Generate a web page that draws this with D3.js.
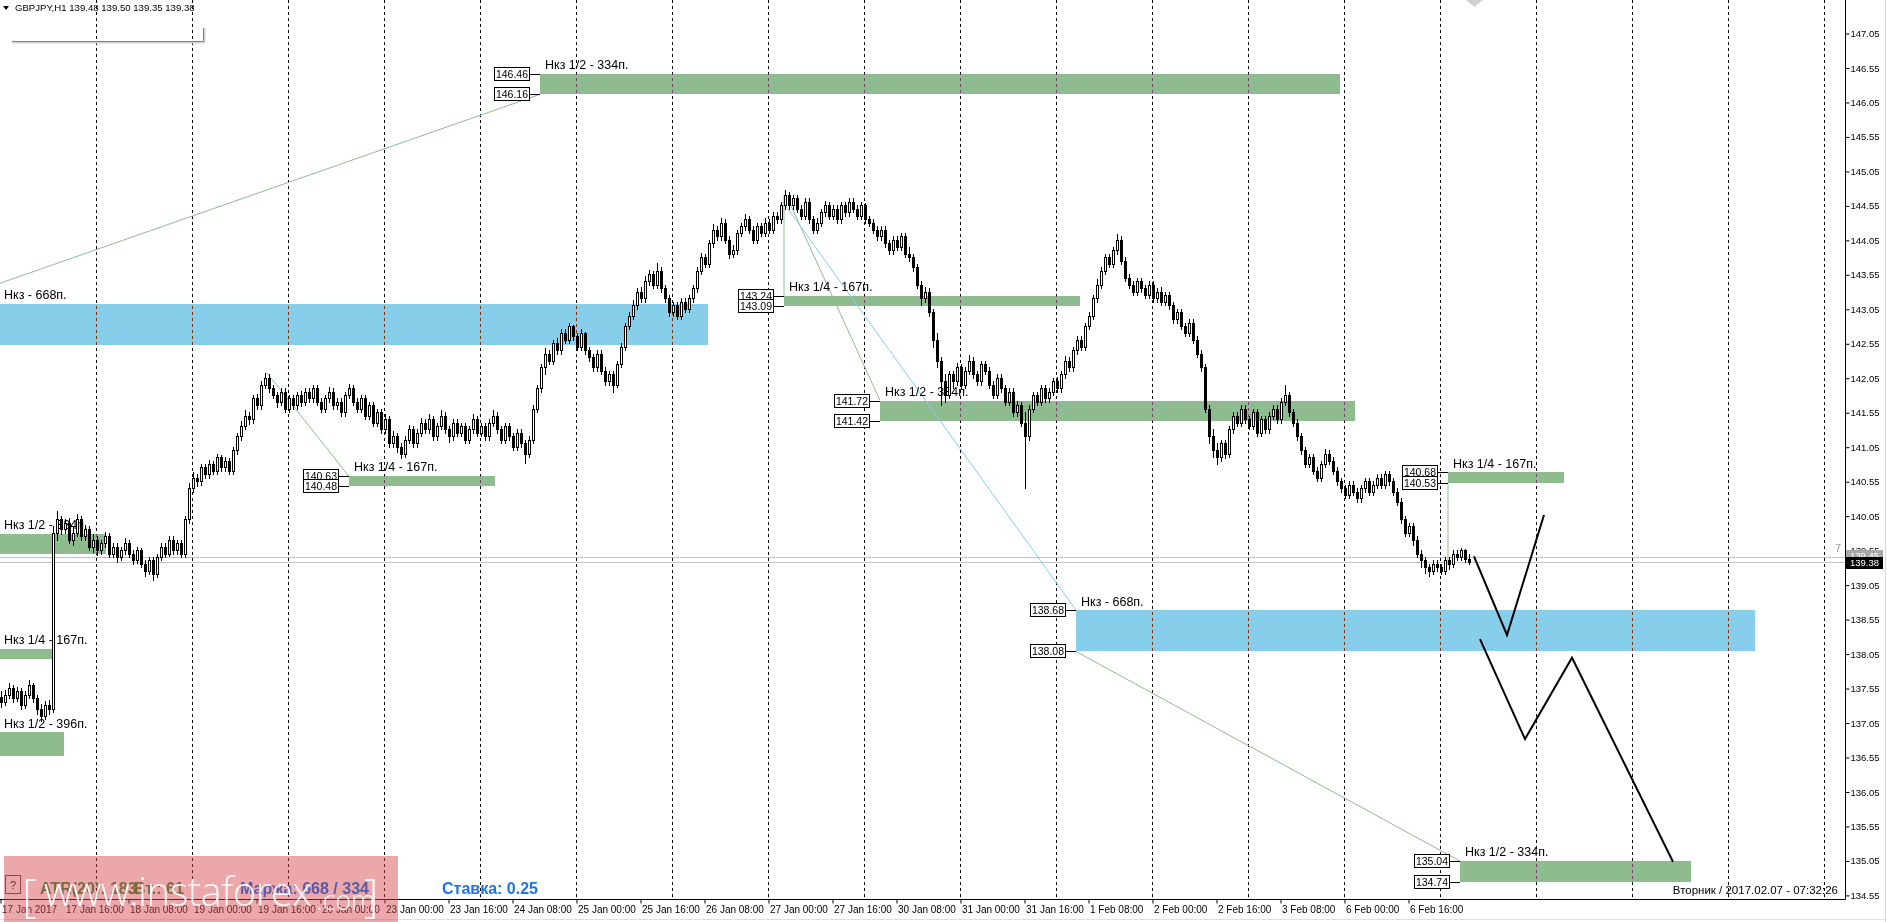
<!DOCTYPE html>
<html><head><meta charset="utf-8">
<script src="https://cdnjs.cloudflare.com/ajax/libs/d3/7.8.5/d3.min.js"></script>
<style>
html,body{margin:0;padding:0;background:#fff;overflow:hidden;}
svg{display:block;font-family:"Liberation Sans",Arial,sans-serif;}
</style></head><body>
<svg id="chart" width="1887" height="922"></svg>
<script>
// ---------------- DATA ----------------
const symbolTitle = "GBPJPY,H1  139.48 139.50 139.35 139.38";
const firstOpen = 137.42;
const closes = [
137.35,137.45,137.55,137.40,137.50,137.30,137.45,137.60,137.40,137.25,137.15,137.30,137.25,
139.80,140.00,
139.85,139.95,139.70,139.80,140.00,139.75,139.85,
139.60,139.70,139.55,139.65,139.75,139.50,139.60,139.45,139.55,
139.65,139.50,139.40,139.55,139.35,139.25,139.40,139.20,
139.45,139.60,139.50,139.70,139.55,139.65,139.50,
140.00,140.45,140.60,
140.55,140.75,140.65,140.80,140.70,140.90,140.75,140.85,140.70,
141.00,141.20,141.35,141.50,141.45,141.75,141.65,141.95,
142.05,141.90,
141.80,141.70,141.85,141.60,141.75,141.65,141.80,141.70,
141.85,141.75,141.90,141.70,141.60,141.75,141.85,141.65,141.70,141.55,141.80,141.90,141.70,141.60,141.75,
141.50,141.65,141.40,141.55,141.30,141.45,
141.10,141.20,141.05,140.95,141.15,141.30,141.10,141.25,
141.40,141.30,141.45,141.20,141.35,141.50,141.30,141.20,141.40,141.25,141.35,141.15,141.30,141.45,141.25,141.35,
141.20,141.40,141.50,141.30,141.15,141.35,141.20,141.05,141.25,141.10,140.95,141.15,
141.60,141.90,142.20,142.40,142.30,142.55,
142.45,142.70,142.60,142.80,142.65,142.50,142.70,142.45,142.35,
142.20,142.40,142.15,142.00,142.10,141.95,142.25,
142.50,142.80,142.95,143.10,143.30,143.20,143.45,
143.55,143.40,143.60,143.35,
143.20,143.00,143.10,142.95,143.15,143.05,143.20,143.35,
143.60,143.80,143.70,144.00,144.20,144.10,144.30,
144.05,143.85,143.90,144.15,144.25,
144.35,144.20,144.05,144.25,144.15,144.30,144.20,144.40,144.35,144.55,
144.70,
144.55,144.65,144.50,144.40,144.60,144.35,144.20,144.30,144.45,144.55,144.40,
144.50,144.35,144.55,144.45,144.60,144.50,144.40,144.55,144.35,144.30,144.20,
144.10,144.20,144.00,143.90,144.05,143.95,144.10,143.85,143.80,143.65,
143.40,143.20,143.30,143.00,
142.60,142.30,142.00,
141.80,142.10,142.00,142.20,141.95,142.15,
142.30,142.10,142.00,142.25,142.15,141.95,141.80,142.05,141.90,
141.70,141.85,141.55,141.65,141.40,141.20,
141.60,141.80,141.70,141.90,141.75,141.85,142.00,141.90,142.10,
142.30,142.20,142.45,142.60,142.50,142.80,142.95,143.20,143.40,
143.60,143.80,143.70,143.90,144.05,143.75,
143.50,143.40,143.30,143.45,143.35,143.25,143.40,143.20,143.30,143.15,143.25,143.10,
142.90,143.00,142.80,142.70,142.85,142.60,142.40,142.20,
141.60,141.20,141.00,140.90,141.10,140.95,141.30,
141.50,141.40,141.60,141.45,141.35,141.55,141.25,141.45,141.30,
141.50,141.60,141.45,141.70,141.80,141.55,141.40,
141.20,141.00,140.80,140.90,140.70,140.60,
140.80,140.95,140.85,140.70,140.55,
140.45,140.35,140.50,140.40,140.30,140.45,140.55,140.40,140.50,
140.60,140.50,140.65,140.55,140.40,140.25,
140.00,139.80,139.90,139.70,
139.50,139.40,139.30,139.25,139.35,
139.30,139.25,139.40,139.35,
139.50,139.45,139.55,139.42,139.38
];
const highs = [
137.50,137.52,137.62,137.60,137.56,137.55,137.50,137.66,137.63,137.45,137.32,137.36,137.38,
139.90,140.12,
140.05,140.00,140.02,139.88,140.08,140.05,139.92,
139.90,139.78,139.75,139.70,139.82,139.80,139.66,139.65,139.60,
139.72,139.70,139.55,139.60,139.58,139.40,139.45,139.45,
139.50,139.65,139.66,139.76,139.75,139.70,139.70,
140.05,140.52,140.68,
140.66,140.80,140.80,140.86,140.85,140.95,140.93,140.90,140.88,
141.05,141.25,141.42,141.58,141.55,141.80,141.82,142.00,
142.12,142.10,
141.95,141.85,141.90,141.90,141.80,141.80,141.85,141.86,
141.90,141.90,141.95,141.95,141.75,141.80,141.92,141.90,141.76,141.75,141.85,141.96,141.95,141.75,141.80,
141.80,141.70,141.70,141.60,141.60,141.52,
141.50,141.28,141.25,141.10,141.20,141.36,141.35,141.30,
141.46,141.45,141.52,141.50,141.40,141.58,141.55,141.35,141.45,141.45,141.40,141.40,141.35,141.52,141.50,141.40,
141.40,141.45,141.58,141.55,141.35,141.40,141.40,141.25,141.30,141.30,141.15,141.20,
141.65,141.95,142.25,142.48,142.45,142.60,
142.62,142.75,142.75,142.85,142.82,142.70,142.76,142.72,142.50,
142.40,142.45,142.45,142.20,142.15,142.15,142.30,
142.55,142.85,143.00,143.18,143.35,143.36,143.52,
143.62,143.60,143.72,143.65,
143.40,143.25,143.15,143.15,143.20,143.20,143.25,143.40,
143.65,143.86,143.85,144.05,144.28,144.25,144.36,
144.35,144.10,143.98,144.20,144.30,
144.42,144.40,144.25,144.30,144.30,144.36,144.35,144.46,144.45,144.60,
144.77,
144.75,144.70,144.70,144.55,144.65,144.65,144.40,144.36,144.50,144.62,144.60,
144.56,144.55,144.60,144.60,144.66,144.65,144.55,144.60,144.58,144.40,144.35,
144.25,144.25,144.25,144.05,144.10,144.10,144.15,144.15,143.95,143.85,
143.70,143.45,143.36,143.35,
143.05,142.70,142.35,
142.10,142.15,142.15,142.26,142.25,142.20,
142.38,142.35,142.15,142.30,142.30,142.20,142.00,142.10,142.10,
141.95,141.90,141.90,141.72,141.70,141.55,
141.65,141.85,141.85,141.95,141.95,141.90,142.05,142.06,142.15,
142.36,142.35,142.50,142.66,142.65,142.85,143.00,143.25,143.48,
143.66,143.85,143.85,143.95,144.13,144.10,
143.80,143.55,143.45,143.50,143.50,143.40,143.45,143.45,143.35,143.36,143.30,143.30,
143.15,143.05,143.05,142.85,142.90,142.90,142.65,142.45,
142.25,141.65,141.30,141.10,141.15,141.15,141.35,
141.56,141.55,141.65,141.65,141.50,141.60,141.60,141.50,141.50,
141.55,141.66,141.65,141.75,141.94,141.85,141.60,
141.45,141.25,141.05,140.95,140.95,140.75,
140.85,141.02,141.00,140.90,140.75,
140.60,140.50,140.55,140.55,140.45,140.50,140.60,140.60,140.55,
140.66,140.65,140.70,140.70,140.60,140.45,
140.30,140.05,139.95,139.95,
139.75,139.55,139.45,139.35,139.40,
139.40,139.35,139.45,139.45,
139.55,139.55,139.58,139.57,139.50
];
const lows = [
137.28,137.30,137.40,137.35,137.36,137.24,137.26,137.40,137.35,137.18,137.07,137.10,137.18,
137.20,139.70,
139.78,139.80,139.65,139.62,139.75,139.70,139.70,
139.55,139.52,139.48,139.50,139.60,139.45,139.45,139.38,139.40,
139.50,139.45,139.35,139.36,139.30,139.18,139.20,139.12,
139.16,139.40,139.45,139.46,139.50,139.50,139.45,
139.45,139.95,140.40,
140.48,140.50,140.60,140.60,140.65,140.66,140.70,140.70,140.65,
140.66,140.95,141.15,141.30,141.38,141.40,141.60,141.60,
141.90,141.85,
141.75,141.62,141.65,141.55,141.55,141.60,141.60,141.64,
141.66,141.70,141.70,141.65,141.55,141.55,141.70,141.60,141.60,141.50,141.50,141.75,141.65,141.55,141.55,
141.45,141.45,141.35,141.35,141.25,141.25,
141.05,141.05,140.98,140.88,140.90,141.10,141.05,141.05,
141.20,141.25,141.25,141.15,141.15,141.30,141.25,141.12,141.15,141.20,141.20,141.10,141.10,141.25,141.20,141.20,
141.15,141.15,141.35,141.25,141.10,141.10,141.15,141.00,141.00,141.05,140.81,140.90,
141.10,141.55,141.85,142.10,142.25,142.25,
142.40,142.40,142.55,142.55,142.60,142.45,142.45,142.40,142.30,
142.15,142.15,142.10,141.95,141.95,141.85,141.92,
142.20,142.45,142.75,142.90,143.05,143.15,143.15,
143.40,143.35,143.35,143.30,
143.15,142.95,142.95,142.90,142.90,143.00,143.00,143.15,
143.30,143.55,143.65,143.65,143.95,144.05,144.05,
144.00,143.78,143.80,143.85,144.10,
144.20,144.15,144.00,144.00,144.10,144.10,144.15,144.15,144.30,144.30,
144.50,
144.50,144.50,144.45,144.35,144.35,144.30,144.15,144.15,144.25,144.40,144.35,
144.35,144.30,144.30,144.40,144.40,144.45,144.35,144.35,144.30,144.25,144.15,
144.05,144.05,143.95,143.85,143.85,143.90,143.90,143.80,143.75,143.60,
143.35,143.10,143.15,142.95,
142.50,142.20,141.66,
141.70,141.75,141.90,141.95,141.90,141.90,
142.10,142.05,141.95,141.95,142.10,141.90,141.75,141.75,141.85,
141.65,141.65,141.50,141.50,141.35,140.45,
141.15,141.55,141.65,141.65,141.70,141.70,141.80,141.85,141.85,
142.05,142.15,142.15,142.40,142.45,142.45,142.75,142.90,143.15,
143.35,143.55,143.65,143.65,143.85,143.70,
143.45,143.35,143.25,143.25,143.30,143.20,143.20,143.15,143.15,143.10,143.10,143.05,
142.85,142.85,142.75,142.65,142.65,142.55,142.35,142.15,
141.55,141.10,140.90,140.80,140.85,140.88,140.90,
141.25,141.35,141.35,141.40,141.30,141.30,141.20,141.20,141.25,
141.25,141.45,141.40,141.40,141.65,141.50,141.35,
141.15,140.95,140.75,140.75,140.65,140.55,
140.55,140.75,140.80,140.65,140.50,
140.40,140.30,140.30,140.35,140.25,140.25,140.40,140.35,140.35,
140.45,140.45,140.45,140.50,140.35,140.20,
139.95,139.75,139.75,139.62,
139.45,139.30,139.22,139.18,139.20,
139.25,139.20,139.20,139.28,
139.30,139.40,139.40,139.38,139.35
];
const timeLabels = ["17 Jan 2017","17 Jan 16:00","18 Jan 08:00","19 Jan 00:00","19 Jan 16:00","20 Jan 08:00","23 Jan 00:00","23 Jan 16:00","24 Jan 08:00","25 Jan 00:00","25 Jan 16:00","26 Jan 08:00","27 Jan 00:00","27 Jan 16:00","30 Jan 08:00","31 Jan 00:00","31 Jan 16:00","1 Feb 08:00","2 Feb 00:00","2 Feb 16:00","3 Feb 08:00","6 Feb 00:00","6 Feb 16:00"];
const barsPerLabel = 16;
const barsPerGrid = 24;
const priceTicks = [147.05,146.55,146.05,145.55,145.05,144.55,144.05,143.55,143.05,142.55,142.05,141.55,141.05,140.55,140.05,139.55,139.05,138.55,138.05,137.55,137.05,136.55,136.05,135.55,135.05,134.55];

// zones
const zoneLabels = ["Нкз 1/2 - 334п.","Нкз - 668п.","Нкз 1/2 - 334п.","Нкз 1/4 - 167п.","Нкз 1/2 - 396п.","Нкз 1/4 - 167п.","Нкз - 668п.","Нкз 1/4 - 167п.","Нкз 1/2 - 334п.","Нкз 1/4 - 167п.","Нкз 1/2 - 334п."];
const zoneTop    = [146.46,143.12,139.79,138.12,136.91,140.63,138.68,143.24,141.72,140.68,135.04];
const zoneBottom = [146.16,142.52,139.49,137.97,136.56,140.48,138.08,143.09,141.42,140.53,134.74];
const zoneStart  = [135,-1,-1,-1,-1,87.25,269,196,220,362,365];
const zoneEnd    = [334.9,176.9,26.5,13.5,16,123.75,438.75,270,338.75,391,422.75];
const zoneKind   = ["g","b","g","g","g","g","b","g","g","g","g"];
const zoneBoxes  = [true,false,false,false,false,true,true,true,true,true,true];

// thin object lines (bar, price)
const lineFrom = [[0,143.42],[66.75,142.12],[196,144.70],[197,144.64],[195.75,144.60],[362,140.53],[269,138.08]];
const lineTo   = [[135,146.16],[87.25,140.62],[196,143.24],[220,141.72],[269,138.68],[362,139.33],[365,135.04]];
const lineKind = ["g","g","g","g","b","g","g"];

// hand-drawn forecast paths (bar, price)
const forecastA = [[368.5,139.46],[376.75,138.32],[386,140.06]];
const forecastB = [[370,138.26],[381.25,136.81],[393,137.99],[418.25,135.03]];

const bidPrice = 139.38, askPrice = 139.45;
const infoTexts = ["ATR(20): 183","Вт.: 61","Маржа: 668 / 334","Ставка: 0.25"];
const footerTime = "Вторник / 2017.02.07 - 07:32:26";

// ---------------- DRAW ----------------
const W = 1887, H = 922, plotRight = 1845, plotBottom = 899;
const zoneColor = {g:"#8fbc8f", b:"#87ceeb"};
const svg = d3.select("#chart");
svg.append("rect").attr("width",W).attr("height",H).attr("fill","#fff");

const x = d3.scaleLinear().domain([0, 461.25]).range([0, plotRight]);
const y = d3.scaleLinear().domain([147.05, 134.55]).range([33, 894.9]);

const zg = svg.append("g").attr("shape-rendering","crispEdges");
zoneTop.forEach((t,i)=>{
  const x0 = Math.round(x(zoneStart[i])), x1 = Math.round(x(zoneEnd[i]));
  const y0 = Math.round(y(t)), y1 = Math.round(y(zoneBottom[i]));
  zg.append("rect").attr("x",x0).attr("y",y0).attr("width",x1-x0).attr("height",y1-y0)
    .attr("fill",zoneColor[zoneKind[i]]);
});

const gridX = d3.range(barsPerGrid, 461, barsPerGrid);
svg.append("g").selectAll("line").data(gridX).join("line")
  .attr("x1",d=>Math.round(x(d))+0.5).attr("x2",d=>Math.round(x(d))+0.5)
  .attr("y1",0).attr("y2",plotBottom)
  .attr("stroke","#fff").attr("stroke-dasharray","3,3")
  .style("mix-blend-mode","difference");

[askPrice,bidPrice].forEach(p=>{
  svg.append("line").attr("x1",0).attr("x2",plotRight).attr("y1",Math.round(y(p))+0.5).attr("y2",Math.round(y(p))+0.5)
    .attr("stroke","#c0c0c0").attr("stroke-width",1);
});
svg.append("text").attr("x",1835).attr("y",552).attr("font-size",11).attr("fill","#a0a0a0").text("7");

const lg = svg.append("g");
lineFrom.forEach((a,i)=>{
  const b = lineTo[i];
  lg.append("line").attr("x1",x(a[0])).attr("y1",y(a[1])).attr("x2",x(b[0])).attr("y2",y(b[1]))
    .attr("stroke", lineKind[i]==="g" ? "#8fbc8f" : "#87ceeb").attr("stroke-width",1);
});

const tg = svg.append("g");
zoneTop.forEach((t,i)=>{
  const x0 = zoneStart[i] < 0 ? 4 : x(zoneStart[i]) + 5;
  tg.append("text").attr("x",x0).attr("y",y(t)-9).attr("dy","0.35em")
    .attr("font-size",12.5).attr("fill","#000").text(zoneLabels[i]);
  if (zoneBoxes[i]) {
    const rx = Math.round(x(zoneStart[i]));
    [t, zoneBottom[i]].forEach(p=>{
      const yy = Math.round(y(p));
      tg.append("line").attr("x1",rx-10).attr("x2",rx).attr("y1",yy+0.5).attr("y2",yy+0.5)
        .attr("stroke","#000").attr("shape-rendering","crispEdges");
      tg.append("rect").attr("x",rx-45.5).attr("y",yy-6.5).attr("width",35).attr("height",13)
        .attr("fill","#fff").attr("stroke","#000").attr("shape-rendering","crispEdges");
      tg.append("text").attr("x",rx-28).attr("y",yy).attr("dy","0.36em").attr("text-anchor","middle")
        .attr("font-size",10.5).attr("fill","#000").text(p.toFixed(2));
    });
  }
});

// candles
const n = Math.min(closes.length, highs.length, lows.length);
const bars = d3.range(n).map(i=>({i, o: i===0 ? firstOpen : closes[i-1], h: highs[i], l: lows[i], c: closes[i]}));
const cg = svg.append("g").attr("shape-rendering","crispEdges");
cg.selectAll("line").data(bars).join("line")
  .attr("x1",d=>Math.round(x(d.i))+1.5).attr("x2",d=>Math.round(x(d.i))+1.5)
  .attr("y1",d=>Math.round(y(d.h))).attr("y2",d=>Math.round(y(d.l))+1)
  .attr("stroke","#000");
cg.selectAll("rect").data(bars).join("rect")
  .attr("x",d=>Math.round(x(d.i))+0.5)
  .attr("y",d=>Math.round(y(Math.max(d.c,d.o)))+0.5)
  .attr("width",2)
  .attr("height",d=>Math.max(0,Math.round(y(Math.min(d.c,d.o)))-Math.round(y(Math.max(d.c,d.o)))))
  .attr("fill",d=> d.c>d.o ? "#fff" : "#000")
  .attr("stroke","#000");

const fl = d3.line().x(d=>x(d[0])).y(d=>y(d[1]));
[forecastA, forecastB].forEach(pts=>{
  svg.append("path").attr("d",fl(pts)).attr("fill","none").attr("stroke","#000").attr("stroke-width",2);
});

// axes
svg.append("line").attr("x1",0).attr("x2",plotRight+0.5).attr("y1",plotBottom+0.5).attr("y2",plotBottom+0.5).attr("stroke","#000");
svg.append("line").attr("x1",plotRight+0.5).attr("x2",plotRight+0.5).attr("y1",0).attr("y2",plotBottom+0.5).attr("stroke","#000");

const xAxis = d3.axisBottom(x)
  .tickValues(timeLabels.map((d,i)=>i*barsPerLabel))
  .tickFormat((d,i)=>timeLabels[i]).tickSize(4).tickSizeOuter(0);
const xa = svg.append("g").attr("transform",`translate(0.5,${plotBottom+0.5})`).call(xAxis);
xa.select(".domain").remove();
xa.selectAll("text").attr("text-anchor","start").attr("x",1).attr("y",4).attr("dy","0.9em")
  .attr("font-size",10).attr("font-family","Liberation Sans");

const yAxis = d3.axisRight(y).tickValues(priceTicks).tickFormat(d3.format(".2f")).tickSize(4).tickSizeOuter(0);
const ya = svg.append("g").attr("transform",`translate(${plotRight+0.5},0.5)`).call(yAxis);
ya.select(".domain").remove();
ya.selectAll("text").attr("x",5).attr("font-size",9.5).attr("font-family","Liberation Sans");

function tag(p, fill, dyOff) {
  const yy = Math.round(y(p)) + dyOff;
  svg.append("rect").attr("x",plotRight+1).attr("y",yy-6).attr("width",37).attr("height",12).attr("fill",fill);
  svg.append("text").attr("x",plotRight+5).attr("y",yy).attr("dy","0.35em").attr("font-size",9.5).attr("fill","#fff").text(p.toFixed(2));
}
tag(askPrice,"#a8a8a8",-1);
tag(bidPrice,"#000",1);

svg.append("line").attr("x1",1885.5).attr("x2",1885.5).attr("y1",0).attr("y2",H).attr("stroke","#d8d8d8");
svg.append("line").attr("x1",0).attr("x2",W).attr("y1",919.5).attr("y2",919.5).attr("stroke","#e0e0e0");

svg.append("path").attr("d","M3,6 L9,6 L6,10 Z").attr("fill","#000");
svg.append("text").attr("x",15).attr("y",7.5).attr("dy","0.35em").attr("font-size",9.6).attr("fill","#000").text(symbolTitle);
svg.append("path").attr("d","M12,42.5 H204.5 V28").attr("fill","none").attr("stroke","#d4d4d4").attr("stroke-width",2);
svg.append("path").attr("d","M12,41.5 H203.5 V28").attr("fill","none").attr("stroke","#808080");
svg.append("path").attr("d","M1466,0 L1483,0 L1474.5,7 Z").attr("fill","#d0d0d0");

svg.append("text").attr("x",1838).attr("y",890).attr("dy","0.35em").attr("text-anchor","end")
  .attr("font-size",11.5).attr("fill","#000").text(footerTime);

svg.append("rect").attr("x",4).attr("y",856).attr("width",394).attr("height",66).attr("fill","rgba(214,72,78,0.48)");
svg.append("rect").attr("x",5.5).attr("y",875.5).attr("width",15).attr("height",18).attr("fill","none").attr("stroke","#8a4a4a");
svg.append("text").attr("x",13).attr("y",885).attr("dy","0.35em").attr("text-anchor","middle").attr("font-size",11).attr("fill","#6a3030").text("?");
const infoX = [40,134,240,442];
const infoColor = ["#7a6a3e","#7a6a3e","#5a5aa6","#1e74e6"];
infoTexts.forEach((t,i)=>{
  svg.append("text").attr("x",infoX[i]).attr("y",888).attr("dy","0.35em").attr("font-size",16)
    .attr("font-weight","bold").attr("fill",infoColor[i]).text(t);
});
const wm = svg.append("g").attr("fill","#fff").attr("opacity",0.9).attr("font-family","'Open Sans',sans-serif").attr("font-weight",300);
wm.append("text").attr("x",22).attr("y",912).attr("font-size",46).text("[");
wm.append("text").attr("x",44).attr("y",906).attr("font-size",40).attr("textLength",268).text("www.instaforex");
wm.append("text").attr("x",316).attr("y",910).attr("font-size",27).text(".com");
wm.append("text").attr("x",364).attr("y",912).attr("font-size",46).text("]");
</script>
</body></html>
